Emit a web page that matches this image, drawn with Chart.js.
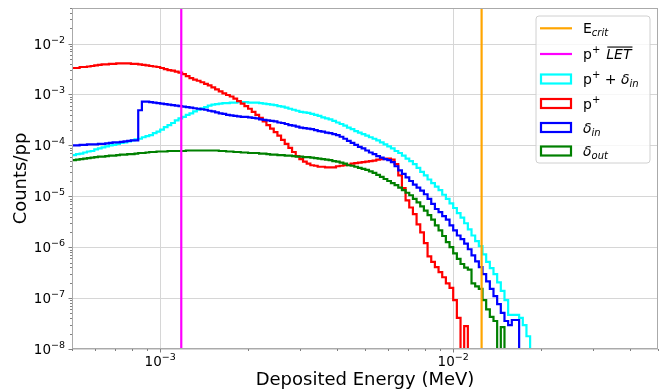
<!DOCTYPE html>
<html><head><meta charset="utf-8">
<script src="https://cdn.jsdelivr.net/npm/chart.js@4.4.1/dist/chart.umd.min.js"></script>
<style>html,body{margin:0;padding:0;background:#fff}canvas{display:block}</style>
</head><body>
<canvas id="c" width="665" height="390"></canvas>
<script>
// ---- histogram bin definition (log-spaced edges, log10 MeV) ----
const binLog10Start = -3.30;
const binLog10Step = 0.0125;

// ---- series: log10(Counts/pp) per bin, null = empty bin ----
const pPlusDeltaInLog = [
  -4.19,-4.17,-4.16,-4.14,-4.12,-4.11,-4.08,-4.06,-4.04,-4.02,
  -4.00,-3.99,-3.97,-3.95,-3.94,-3.92,-3.90,-3.88,-3.87,-3.84,
  -3.82,-3.80,-3.76,-3.73,-3.69,-3.64,-3.60,-3.56,-3.51,-3.47,
  -3.44,-3.40,-3.37,-3.33,-3.30,-3.27,-3.25,-3.22,-3.20,-3.19,
  -3.18,-3.17,-3.17,-3.16,-3.16,-3.15,-3.15,-3.15,-3.16,-3.16,
  -3.16,-3.17,-3.18,-3.19,-3.20,-3.21,-3.23,-3.24,-3.26,-3.28,
  -3.30,-3.32,-3.34,-3.35,-3.36,-3.38,-3.40,-3.42,-3.45,-3.47,
  -3.49,-3.52,-3.55,-3.58,-3.61,-3.65,-3.68,-3.72,-3.75,-3.78,
  -3.81,-3.84,-3.87,-3.90,-3.94,-3.98,-4.02,-4.06,-4.11,-4.15,
  -4.20,-4.26,-4.31,-4.37,-4.44,-4.52,-4.59,-4.67,-4.74,-4.81,
  -4.88,-4.97,-5.05,-5.14,-5.23,-5.33,-5.42,-5.53,-5.65,-5.77,
  -5.88,-5.98,-6.14,-6.29,-6.41,-6.53,-6.69,-6.86,-7.04,-7.33,
  -7.33,-7.33,-7.39,-7.53,-7.75];
const pPlusLog = [
  -2.48,-2.48,-2.46,-2.46,-2.45,-2.44,-2.43,-2.42,-2.41,-2.41,
  -2.40,-2.40,-2.39,-2.39,-2.39,-2.39,-2.40,-2.40,-2.41,-2.42,
  -2.43,-2.44,-2.45,-2.46,-2.48,-2.50,-2.52,-2.53,-2.55,-2.57,
  -2.60,-2.64,-2.68,-2.71,-2.73,-2.76,-2.79,-2.82,-2.86,-2.90,
  -2.94,-2.98,-3.01,-3.04,-3.08,-3.13,-3.18,-3.23,-3.28,-3.34,
  -3.40,-3.46,-3.53,-3.60,-3.67,-3.74,-3.81,-3.89,-3.97,-4.05,
  -4.13,-4.21,-4.27,-4.32,-4.36,-4.39,-4.40,-4.42,-4.42,-4.43,
  -4.43,-4.43,-4.41,-4.40,-4.39,-4.38,-4.36,-4.35,-4.34,-4.33,
  -4.32,-4.31,-4.30,-4.28,-4.27,-4.26,-4.26,-4.28,-4.37,-4.59,
  -4.84,-5.08,-5.22,-5.35,-5.55,-5.71,-5.92,-6.18,-6.29,-6.39,
  -6.49,-6.59,-6.71,-6.80,-7.04,-7.39,null,-7.55];
const deltaInLog = [
  -4.00,-4.00,-3.99,-3.99,-3.98,-3.98,-3.98,-3.97,-3.97,-3.96,
  -3.95,-3.94,-3.94,-3.93,-3.92,-3.91,-3.90,-3.90,-3.31,-3.14,
  -3.14,-3.15,-3.16,-3.17,-3.18,-3.19,-3.20,-3.21,-3.22,-3.23,
  -3.24,-3.25,-3.26,-3.27,-3.28,-3.29,-3.30,-3.32,-3.33,-3.35,
  -3.37,-3.38,-3.40,-3.41,-3.42,-3.43,-3.44,-3.44,-3.45,-3.46,
  -3.47,-3.49,-3.50,-3.51,-3.52,-3.53,-3.55,-3.56,-3.58,-3.60,
  -3.61,-3.63,-3.65,-3.66,-3.67,-3.68,-3.70,-3.72,-3.73,-3.75,
  -3.76,-3.78,-3.80,-3.83,-3.87,-3.91,-3.95,-3.99,-4.03,-4.06,
  -4.10,-4.14,-4.17,-4.21,-4.24,-4.27,-4.29,-4.33,-4.41,-4.49,
  -4.56,-4.63,-4.70,-4.77,-4.83,-4.89,-4.96,-5.05,-5.15,-5.25,
  -5.31,-5.39,-5.46,-5.57,-5.67,-5.77,-5.84,-5.93,-6.04,-6.16,
  -6.28,-6.39,-6.53,-6.67,-6.82,-6.96,-7.12,-7.29,-7.45,-7.53,
  -7.43,-7.43];
const deltaOutLog = [
  -4.29,-4.28,-4.27,-4.26,-4.25,-4.24,-4.23,-4.22,-4.22,-4.21,
  -4.20,-4.20,-4.19,-4.18,-4.18,-4.17,-4.17,-4.16,-4.15,-4.15,
  -4.14,-4.13,-4.13,-4.12,-4.12,-4.12,-4.11,-4.11,-4.11,-4.11,
  -4.11,-4.10,-4.10,-4.10,-4.10,-4.10,-4.10,-4.10,-4.10,-4.10,
  -4.11,-4.11,-4.12,-4.12,-4.13,-4.13,-4.14,-4.14,-4.15,-4.15,
  -4.15,-4.16,-4.16,-4.17,-4.18,-4.18,-4.19,-4.19,-4.20,-4.20,
  -4.21,-4.22,-4.22,-4.23,-4.23,-4.24,-4.25,-4.26,-4.27,-4.28,
  -4.29,-4.31,-4.32,-4.34,-4.36,-4.39,-4.40,-4.42,-4.44,-4.46,
  -4.48,-4.51,-4.54,-4.58,-4.62,-4.66,-4.70,-4.74,-4.78,-4.83,
  -4.88,-4.93,-4.98,-5.05,-5.12,-5.20,-5.28,-5.37,-5.46,-5.57,
  -5.67,-5.78,-5.90,-6.00,-6.12,-6.23,-6.33,-6.40,-6.44,-6.71,
  -6.77,-6.82,-7.04,-7.22,-7.37,-7.45,null,-7.57];

// ---- reference energies (MeV) ----
const eCrit = 0.0125;
const pLETmean = 1.18e-3;

// ---- axes ----
const xRange = [5e-4, 5e-2];
const yRange = [1e-8, 5e-2];
const xTickValues = [1e-3, 1e-2];
const xTickExps = ['\u22123', '\u22122'];
const yTickValues = [1e-8, 1e-7, 1e-6, 1e-5, 1e-4, 1e-3, 1e-2];
const yTickExps = ['\u22128', '\u22127', '\u22126', '\u22125', '\u22124', '\u22123', '\u22122'];
const xTitle = 'Deposited Energy (MeV)';
const yTitle = 'Counts/pp';

const FLOOR = 1e-12;
function histPoints(logVals) {
  const pts = [];
  for (let i = 0; i < logVals.length; i++) {
    const v = logVals[i];
    pts.push({x: Math.pow(10, binLog10Start + i * binLog10Step), y: v === null ? FLOOR : Math.pow(10, v)});
  }
  pts.push({x: Math.pow(10, binLog10Start + logVals.length * binLog10Step), y: FLOOR});
  return pts;
}
function vline(x) { return [{x: x, y: yRange[0]}, {x: x, y: yRange[1]}]; }

const FONT = '"DejaVu Sans", sans-serif';
function font(size, italic) { return (italic ? 'italic ' : '') + size + 'px ' + FONT; }

function histDS(data, color) {
  return {data: histPoints(data), borderColor: color, borderWidth: 2.2, showLine: true,
    stepped: true, pointRadius: 0, fill: false, clip: 0, borderJoinStyle: 'miter'};
}
function lineDS(x, color) {
  return {data: vline(x), borderColor: color, borderWidth: 2.2, showLine: true,
    pointRadius: 0, fill: false, clip: 0};
}

// index 0 is drawn on top
const datasets = [
  lineDS(eCrit, '#ffa500'),
  lineDS(pLETmean, '#ff00ff'),
  histDS(deltaOutLog, '#008000'),
  histDS(deltaInLog, '#0000ff'),
  histDS(pPlusLog, '#ff0000'),
  histDS(pPlusDeltaInLog, '#00ffff')
];

const gridPlugin = {
  id: 'grid',
  beforeDatasetsDraw(chart) {
    const {ctx, chartArea: a, scales: {x, y}} = chart;
    ctx.save();
    ctx.strokeStyle = '#d6d6d6';
    ctx.lineWidth = 1;
    for (const v of xTickValues) {
      const px = Math.round(x.getPixelForValue(v)) + 0.5;
      ctx.beginPath(); ctx.moveTo(px, a.top); ctx.lineTo(px, a.bottom); ctx.stroke();
    }
    for (const v of yTickValues) {
      const py = Math.round(y.getPixelForValue(v)) + 0.5;
      ctx.beginPath(); ctx.moveTo(a.left, py); ctx.lineTo(a.right, py); ctx.stroke();
    }
    ctx.restore();
  }
};

function drawRich(ctx, x, baseline, pieces) {
  for (const p of pieces) {
    ctx.font = font(p.s, p.it);
    const w = ctx.measureText(p.t).width;
    ctx.fillText(p.t, x, baseline + (p.dy || 0));
    if (p.over) ctx.fillRect(x + 1, baseline - 12.5, w, 1.1);
    x += w + (p.gap || 0);
  }
}

const decorPlugin = {
  id: 'decor',
  afterDatasetsDraw(chart) {
    const {ctx, chartArea: a, scales: {x, y}} = chart;
    ctx.save();
    // minor & major ticks
    ctx.strokeStyle = '#808080';
    ctx.lineWidth = 1;
    const lx0 = Math.floor(Math.log10(xRange[0])), lx1 = Math.ceil(Math.log10(xRange[1]));
    for (let e = lx0; e <= lx1; e++) {
      for (let m = 1; m <= 9; m++) {
        const v = m * Math.pow(10, e);
        if (v < xRange[0] * 0.999 || v > xRange[1] * 1.001) continue;
        const px = Math.round(x.getPixelForValue(v)) + 0.5;
        const len = m === 1 ? 3.5 : 2;
        ctx.beginPath(); ctx.moveTo(px, a.bottom); ctx.lineTo(px, a.bottom + len); ctx.stroke();
      }
    }
    const ly0 = Math.floor(Math.log10(yRange[0])), ly1 = Math.ceil(Math.log10(yRange[1]));
    for (let e = ly0; e <= ly1; e++) {
      for (let m = 1; m <= 9; m++) {
        const v = m * Math.pow(10, e);
        if (v < yRange[0] * 0.999 || v > yRange[1] * 1.001) continue;
        const py = Math.round(y.getPixelForValue(v)) + 0.5;
        const len = m === 1 ? 3.5 : 2;
        ctx.beginPath(); ctx.moveTo(a.left, py); ctx.lineTo(a.left - len, py); ctx.stroke();
      }
    }
    // spines
    ctx.strokeStyle = '#aaaaaa';
    ctx.strokeRect(a.left + 0.5, a.top + 0.5, a.right - a.left - 1, a.bottom - a.top - 1);

    // tick labels
    ctx.fillStyle = '#000';
    ctx.textBaseline = 'alphabetic';
    ctx.textAlign = 'left';
    const mainS = 13.5, supS = 9.5;
    for (let i = 0; i < yTickValues.length; i++) {
      const py = y.getPixelForValue(yTickValues[i]);
      ctx.font = font(supS); const sw = ctx.measureText(yTickExps[i]).width;
      ctx.font = font(mainS); const mw = ctx.measureText('10').width;
      const right = a.left - 7;
      ctx.fillText('10', right - sw - mw, py + 5);
      ctx.font = font(supS); ctx.fillText(yTickExps[i], right - sw, py - 1);
    }
    for (let i = 0; i < xTickValues.length; i++) {
      const px = x.getPixelForValue(xTickValues[i]);
      ctx.font = font(supS); const sw = ctx.measureText(xTickExps[i]).width;
      ctx.font = font(mainS); const mw = ctx.measureText('10').width;
      const left = px - (sw + mw) / 2;
      ctx.fillText('10', left, a.bottom + 17);
      ctx.font = font(supS); ctx.fillText(xTickExps[i], left + mw, a.bottom + 11);
    }
    // axis titles
    ctx.font = font(18);
    ctx.textAlign = 'center';
    ctx.textBaseline = 'alphabetic';
    ctx.fillText(xTitle, (a.left + a.right) / 2, 385);
    ctx.save();
    ctx.translate(26, (a.top + a.bottom) / 2);
    ctx.rotate(-Math.PI / 2);
    ctx.fillText(yTitle, 0, 0);
    ctx.restore();

    // legend
    const bx = 536, by = 16, bw = 114, bh = 147, r = 3;
    ctx.beginPath();
    ctx.moveTo(bx + r, by); ctx.lineTo(bx + bw - r, by); ctx.arcTo(bx + bw, by, bx + bw, by + r, r);
    ctx.lineTo(bx + bw, by + bh - r); ctx.arcTo(bx + bw, by + bh, bx + bw - r, by + bh, r);
    ctx.lineTo(bx + r, by + bh); ctx.arcTo(bx, by + bh, bx, by + bh - r, r);
    ctx.lineTo(bx, by + r); ctx.arcTo(bx, by, bx + r, by, r); ctx.closePath();
    ctx.fillStyle = 'rgba(255,255,255,0.8)'; ctx.fill();
    ctx.strokeStyle = '#d0d0d0'; ctx.lineWidth = 1; ctx.stroke();

    const rows = [
      {c: '#ffa500', line: true, t: [{t: 'E', s: 14}, {t: 'crit', s: 10, it: true, dy: 3}]},
      {c: '#ff00ff', line: true, t: [{t: 'p', s: 14}, {t: '+', s: 10, dy: -6, gap: 6}, {t: 'LET', s: 14, it: true, over: true}]},
      {c: '#00ffff', t: [{t: 'p', s: 14}, {t: '+', s: 10, dy: -6}, {t: ' + ', s: 14}, {t: '\u03b4', s: 14, it: true}, {t: 'in', s: 10, it: true, dy: 3}]},
      {c: '#ff0000', t: [{t: 'p', s: 14}, {t: '+', s: 10, dy: -6}]},
      {c: '#0000ff', t: [{t: '\u03b4', s: 14, it: true}, {t: 'in', s: 10, it: true, dy: 3}]},
      {c: '#008000', t: [{t: '\u03b4', s: 14, it: true}, {t: 'out', s: 10, it: true, dy: 3}]}
    ];
    const rowY = [28.3, 54, 79, 103.5, 127.5, 151];
    ctx.textAlign = 'left';
    ctx.textBaseline = 'alphabetic';
    for (let i = 0; i < rows.length; i++) {
      const cy = rowY[i], rw = rows[i];
      ctx.strokeStyle = rw.c; ctx.lineWidth = 2.2;
      if (rw.line) {
        ctx.beginPath(); ctx.moveTo(540, cy); ctx.lineTo(572, cy); ctx.stroke();
      } else {
        ctx.strokeRect(541, cy - 4.5, 30, 9);
      }
      ctx.fillStyle = '#000';
      drawRich(ctx, 583, cy + 5, rw.t);
    }
    ctx.restore();
  }
};

new Chart(document.getElementById('c'), {
  type: 'scatter',
  data: {datasets: datasets},
  options: {
    responsive: false,
    animation: false,
    devicePixelRatio: 1,
    layout: {padding: {left: 72, right: 7, top: 8, bottom: 41}},
    plugins: {legend: {display: false}, tooltip: {enabled: false}},
    scales: {
      x: {type: 'logarithmic', min: xRange[0], max: xRange[1], display: false},
      y: {type: 'logarithmic', min: yRange[0], max: yRange[1], display: false}
    }
  },
  plugins: [gridPlugin, decorPlugin]
});
</script>
</body></html>
